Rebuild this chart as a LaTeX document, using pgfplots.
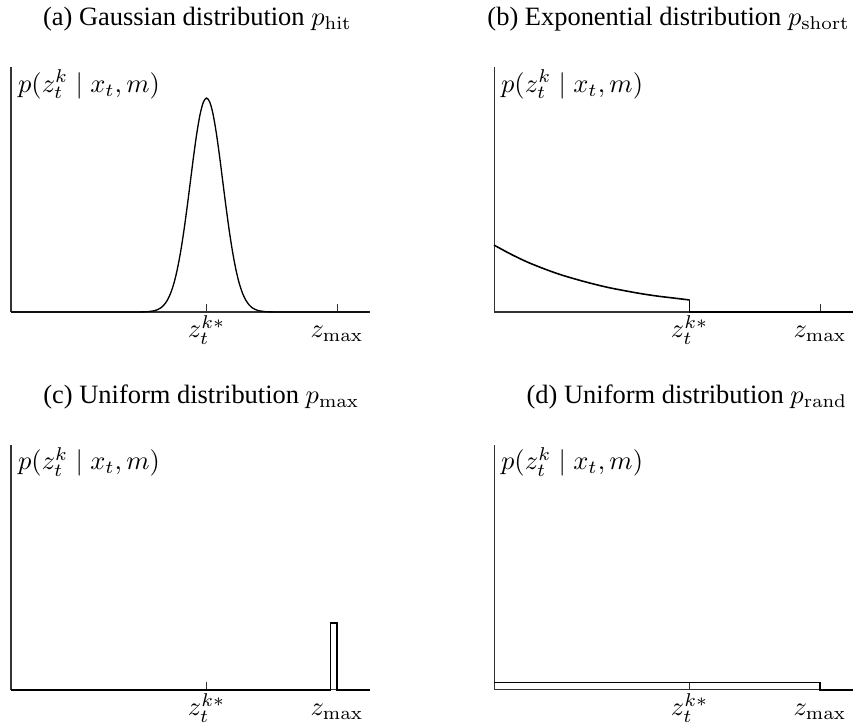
\documentclass[border=0pt]{standalone}
\usepackage[no-math]{fontspec}
\setmainfont{Liberation Serif}
\usepackage{pgfplots}
\pgfplotsset{compat=1.18}

\pgfplotsset{
  sensor/.style={
    scale only axis,
    width=135.5pt, height=92.6pt,
    anchor=south west,
    xmin=0, xmax=11, ymin=0, ymax=1,
    axis x line=bottom, axis y line=left,
    axis line style={-, black!80},
    xtick={6,10},
    xticklabels={$z_t^{k*}$, $z_{\max}$},
    ytick=\empty,
    xtick align=inside,
    major tick length=3pt,
    tick style={black!80},
    xticklabel style={anchor=base, yshift=-9.8pt, inner sep=0pt},
    clip=false,
    title style={anchor=base, yshift=9.5pt, inner sep=0pt},
  },
}
\tikzset{ylab/.style={anchor=base west, inner sep=0pt, xshift=2.5pt, yshift=-9.5pt}}

\begin{document}
\begin{tikzpicture}
\path[use as bounding box] (0,0) rectangle (325pt,273.2pt);

% (a) Gaussian
\begin{axis}[sensor, at={(4.16pt,155.3pt)},
  title={(a) Gaussian distribution $p_{\mathrm{hit}}$},
  title style={at={(0.52,1)}}]
\addplot[black, smooth, line width=0.5pt] coordinates {
  (0,0) (3.5,0) (4.0,0.0003) (4.2,0.0013) (4.4,0.0052) (4.5,0.0097)
  (4.6,0.0173) (4.7,0.0297) (4.8,0.0490) (4.9,0.0776) (5.0,0.118)
  (5.1,0.173) (5.2,0.243) (5.3,0.328) (5.4,0.425) (5.5,0.529)
  (5.6,0.634) (5.7,0.729) (5.8,0.806) (5.9,0.856) (6.0,0.873)
  (6.1,0.856) (6.2,0.806) (6.3,0.729) (6.4,0.634) (6.5,0.529)
  (6.6,0.425) (6.7,0.328) (6.8,0.243) (6.9,0.173) (7.0,0.118)
  (7.1,0.0776) (7.2,0.0490) (7.3,0.0297) (7.4,0.0173) (7.5,0.0097)
  (7.6,0.0052) (7.8,0.0013) (8.0,0.0003) (8.5,0) (11,0)};
\node[ylab] at (rel axis cs:0,1) {$p(z_t^k \mid x_t, m)$};
\end{axis}

% (b) Exponential
\begin{axis}[sensor, at={(186.7pt,155.3pt)},
  title={(b) Exponential distribution $p_{\mathrm{short}}$},
  title style={at={(0.487,1)}}]
\addplot[black, smooth, line width=0.6pt] coordinates {
  (0,0.273) (0.5,0.237) (1,0.205) (1.5,0.178) (2,0.154) (2.5,0.134)
  (3,0.116) (3.5,0.100) (4,0.087) (4.5,0.075) (5,0.065) (5.5,0.057)
  (6,0.049)};
\addplot[black, line width=0.6pt] coordinates {(6,0.049) (6,0) (11,0)};
\node[ylab] at (rel axis cs:0,1) {$p(z_t^k \mid x_t, m)$};
\end{axis}

% (c) Uniform p_max
\begin{axis}[sensor, at={(4.16pt,12.5pt)},
  title={(c) Uniform distribution $p_{\max}$},
  title style={at={(0.531,1)}}]
\addplot[black, sharp plot, line width=0.5pt] coordinates {
  (0,0) (9.8,0) (9.8,0.273) (10,0.273) (10,0) (11,0)};
\node[ylab] at (rel axis cs:0,1) {$p(z_t^k \mid x_t, m)$};
\end{axis}

% (d) Uniform p_rand
\begin{axis}[sensor, at={(186.7pt,12.5pt)},
  title={(d) Uniform distribution $p_{\mathrm{rand}}$},
  title style={at={(0.538,1)}}]
\addplot[black, sharp plot, line width=0.5pt] coordinates {
  (0,0.029) (10,0.029) (10,0) (11,0)};
\node[ylab] at (rel axis cs:0,1) {$p(z_t^k \mid x_t, m)$};
\end{axis}
\end{tikzpicture}
\end{document}
